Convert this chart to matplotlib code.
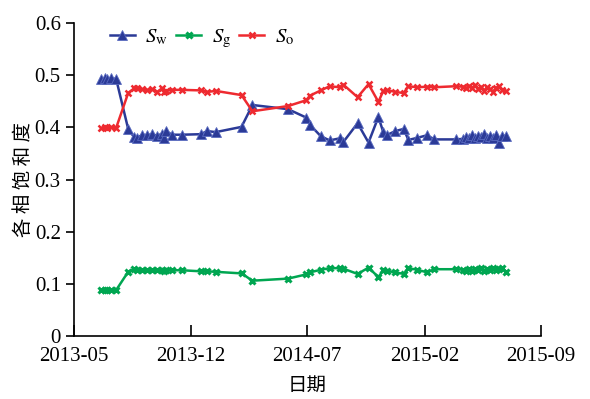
import matplotlib
matplotlib.use("Agg")
import matplotlib.pyplot as plt
import matplotlib.dates as mdates
import pandas as pd

dates = [
    "2013-06-20", "2013-06-26", "2013-07-01", "2013-07-08", "2013-07-17",
    "2013-08-08", "2013-08-19", "2013-08-25", "2013-09-03", "2013-09-12",
    "2013-09-21", "2013-09-30", "2013-10-09", "2013-10-13", "2013-10-16",
    "2013-10-27", "2013-11-14", "2013-12-19", "2013-12-30", "2014-01-15",
    "2014-03-03", "2014-03-23", "2014-05-27", "2014-06-29", "2014-07-06",
    "2014-07-26", "2014-08-11", "2014-08-29", "2014-09-05", "2014-10-01",
    "2014-10-21", "2014-11-08", "2014-11-17", "2014-11-23", "2014-12-09",
    "2014-12-24", "2015-01-02", "2015-01-18", "2015-02-05", "2015-02-18",
    "2015-03-29",
    "2015-04-12", "2015-04-17", "2015-04-23", "2015-04-28", "2015-05-04",
    "2015-05-09", "2015-05-15", "2015-05-20", "2015-05-25", "2015-05-31",
    "2015-06-05", "2015-06-11", "2015-06-16", "2015-06-22", "2015-06-29",
]

sw = [
    0.493, 0.494, 0.493, 0.494, 0.493,
    0.397, 0.381, 0.380, 0.386, 0.385,
    0.387, 0.384, 0.388, 0.380, 0.393,
    0.386, 0.386, 0.387, 0.393, 0.391,
    0.401, 0.443, 0.435, 0.419, 0.405,
    0.383, 0.375, 0.379, 0.372, 0.408,
    0.371, 0.420, 0.391, 0.385, 0.393,
    0.397, 0.376, 0.380, 0.385, 0.377,
    0.377,
    0.378, 0.382, 0.380, 0.385, 0.379,
    0.383, 0.381, 0.387, 0.379, 0.384,
    0.380, 0.386, 0.371, 0.383, 0.384,
]

sg = [
    0.088, 0.089, 0.088, 0.089, 0.088,
    0.123, 0.128, 0.127, 0.127, 0.126,
    0.127, 0.126, 0.127, 0.125, 0.127,
    0.126, 0.126, 0.124, 0.124, 0.123,
    0.120, 0.106, 0.110, 0.118, 0.122,
    0.127, 0.130, 0.130, 0.129, 0.119,
    0.131, 0.113, 0.126, 0.125, 0.122,
    0.119, 0.130, 0.127, 0.122, 0.128,
    0.128,
    0.127, 0.125, 0.129, 0.124, 0.128,
    0.126, 0.130, 0.125, 0.128, 0.127,
    0.131, 0.126, 0.129, 0.130, 0.123,
]

so = [
    0.399, 0.400, 0.399, 0.400, 0.399,
    0.466, 0.475, 0.476, 0.473, 0.472,
    0.473, 0.468, 0.475, 0.468, 0.470,
    0.472, 0.472, 0.471, 0.468, 0.470,
    0.462, 0.431, 0.441, 0.452, 0.461,
    0.471, 0.479, 0.477, 0.482, 0.458,
    0.483, 0.449, 0.470, 0.472, 0.468,
    0.466, 0.479, 0.477, 0.478, 0.477,
    0.479,
    0.478, 0.475, 0.480, 0.476, 0.481,
    0.473, 0.478, 0.470, 0.477, 0.474,
    0.468, 0.476, 0.479, 0.472, 0.470,
]

xticks = ["2013-05-01", "2013-12-01", "2014-07-01", "2015-02-01", "2015-09-01"]
yticks = [0, 0.1, 0.2, 0.3, 0.4, 0.5, 0.6]
ytick_labels = ["0", "0.1", "0.2", "0.3", "0.4", "0.5", "0.6"]

plt.rcParams["font.family"] = "serif"
plt.rcParams["font.serif"] = ["Liberation Serif", "DejaVu Serif"]
plt.rcParams["mathtext.fontset"] = "stix"

d = pd.to_datetime(dates)
fig = plt.figure(figsize=(5.9, 3.99), dpi=100)
ax = fig.add_axes([0.1254, 0.158, 0.7915, 0.784])

c_w = "#2B3A97"
c_g = "#00A651"
c_o = "#EE2A30"

ax.plot(d, sw, color=c_w, lw=1.8, marker="^", ms=7, mfc=c_w, mec="#5A6BC0",
        mew=0.6, label=r"$S_{\mathrm{w}}$")
ax.plot(d, sg, color=c_g, lw=1.8, marker="x", ms=5, mew=2.2, label=r"$S_{\mathrm{g}}$")
ax.plot(d, so, color=c_o, lw=1.8, marker="x", ms=5, mew=1.8, label=r"$S_{\mathrm{o}}$")

ax.set_xlim(pd.Timestamp(xticks[0]), pd.Timestamp(xticks[-1]))
ax.set_ylim(0, 0.6)
ax.set_xticks(pd.to_datetime(xticks))
ax.xaxis.set_major_formatter(mdates.DateFormatter("%Y-%m"))
ax.set_yticks(yticks)
ax.set_yticklabels(ytick_labels)
for lab in ax.get_xticklabels() + ax.get_yticklabels():
    lab.set_family(["Liberation Serif"])

for s in ["top", "right"]:
    ax.spines[s].set_visible(False)
for s in ["left", "bottom"]:
    ax.spines[s].set_linewidth(1.2)
ax.tick_params(axis="x", direction="in", length=8, width=1.2, labelsize=15, pad=8)
ax.tick_params(axis="y", direction="out", length=6, width=1.2, labelsize=15)

ax.set_xlabel("日期", fontsize=14, family=["Noto Sans CJK SC"], labelpad=6)
ax.set_ylabel("各 相 饱 和 度", fontsize=14, family=["Noto Sans CJK SC"])
ax.yaxis.set_label_coords(-0.085, 0.5)

leg = ax.legend(loc="upper left", ncol=3, frameon=False, fontsize=15,
                bbox_to_anchor=(0.077, 0.985), borderaxespad=0, borderpad=0,
                handlelength=1.2, columnspacing=0.4, handletextpad=0.5)

fig.savefig("out.png", dpi=100)
